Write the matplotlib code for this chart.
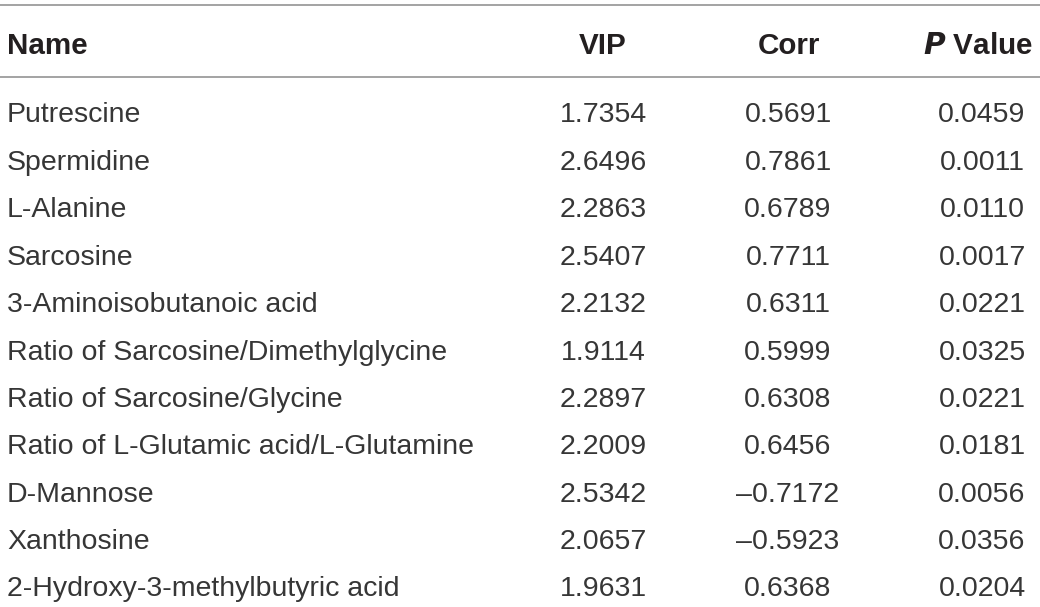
import matplotlib
matplotlib.use('Agg')
import matplotlib.pyplot as plt

# Table data
names = ['Putrescine', 'Spermidine', 'L-Alanine', 'Sarcosine',
         '3-Aminoisobutanoic acid', 'Ratio of Sarcosine/Dimethylglycine',
         'Ratio of Sarcosine/Glycine', 'Ratio of L-Glutamic acid/L-Glutamine',
         'D-Mannose', 'Xanthosine', '2-Hydroxy-3-methylbutyric acid']
vip = [1.7354, 2.6496, 2.2863, 2.5407, 2.2132, 1.9114, 2.2897, 2.2009,
       2.5342, 2.0657, 1.9631]
corr = [0.5691, 0.7861, 0.6789, 0.7711, 0.6311, 0.5999, 0.6308, 0.6456,
        -0.7172, -0.5923, 0.6368]
pval = [0.0459, 0.0011, 0.0110, 0.0017, 0.0221, 0.0325, 0.0221, 0.0181,
        0.0056, 0.0356, 0.0204]


def fmt(v):
    s = '%.4f' % abs(v)
    return ('\u2013' + s) if v < 0 else s


plt.rcParams['font.family'] = ['Liberation Sans', 'DejaVu Sans']

W, H = 1040, 607
fig = plt.figure(figsize=(W / 100, H / 100), dpi=100)
ax = fig.add_axes([0, 0, 1, 1])
ax.set_xlim(0, W)
ax.set_ylim(H, 0)
ax.axis('off')

body = dict(fontsize=20.5, color='#363636', va='center_baseline')
head = dict(fontsize=21.3, color='#231f20', va='center_baseline',
            fontweight='bold')

# rules
line_col = '#a3a3a3'
ax.plot([0, W], [5, 5], color=line_col, lw=1.4)
ax.plot([0, W], [77, 77], color=line_col, lw=1.4)

# header
hy = 43
ax.text(7, hy, 'Name', ha='left', **head)
ax.text(603, hy, 'VIP', ha='center', **head)
ax.text(789, hy, 'Corr', ha='center', **head)
ax.text(1033, hy, r'$\bfit{P}$ Value', ha='right', **head)

# rows
y0, step = 112.5, 47.4
for i, name in enumerate(names):
    y = y0 + i * step
    ax.text(7, y, name, ha='left', **body)
    ax.text(603, y, fmt(vip[i]), ha='center', **body)
    ax.text(788, y, fmt(corr[i]), ha='center', **body)
    ax.text(982, y, fmt(pval[i]), ha='center', **body)

fig.savefig('out.png', dpi=100)
